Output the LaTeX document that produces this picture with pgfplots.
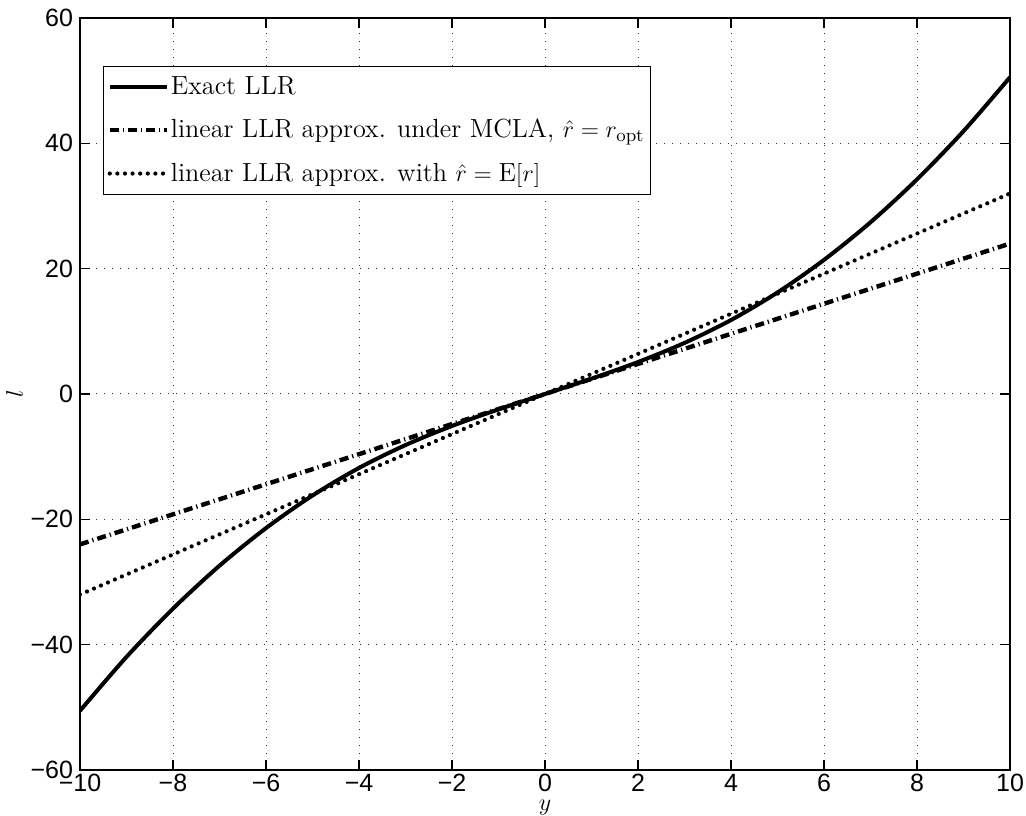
\documentclass[border=0pt]{standalone}
\usepackage{fontspec}
\usepackage{amsmath}
\usepackage{pgfplots}
\pgfplotsset{compat=1.18}
\newfontfamily\tickfont{Liberation Sans}
\pgfplotstableread{
x y
-10 -50.55
-9 -41.95
-8 -34.25
-7 -27.4
-6 -21.4
-5 -16.2
-4 -11.8
-3 -8.15
-2 -5.1
-1 -2.45
0 0
1 2.45
2 5.1
3 8.15
4 11.8
5 16.2
6 21.4
7 27.4
8 34.25
9 41.95
10 50.55
}\exact
\pgfplotstableread{
x y
-10 -24
10 24
}\mcla
\pgfplotstableread{
x y
-10 -32
10 32
}\mean
\begin{document}
\begin{tikzpicture}
\begin{axis}[
  name=ax,
  scale only axis,
  width=465pt, height=376pt,
  xmin=-10, xmax=10, ymin=-60, ymax=60,
  xtick={-10,-8,...,10},
  xticklabels={−10,−8,−6,−4,−2,0,2,4,6,8,10},
  ytick={-60,-40,...,60},
  yticklabels={−60,−40,−20,0,20,40,60},
  tick label style={font=\tickfont\fontsize{12.5}{14}\selectfont},
  xticklabel style={yshift=1.5pt},
  tick align=inside,
  major tick length=5pt,
  axis line style={line width=0.8pt},
  every tick/.style={line width=0.6pt,black},
  grid=major,
  major grid style={line width=0.5pt, dash pattern=on 0.6pt off 3.4pt, black!80},
  xlabel={$y$}, ylabel={$l$},
  label style={font=\fontsize{12.5}{14}\selectfont},
  xlabel style={yshift=2.5pt},
  ylabel style={yshift=-3pt},
  legend style={at={(0.0247,0.9365)}, anchor=north west, draw=black, line width=0.6pt,
    font=\fontsize{13.1}{14}\selectfont, row sep=9pt, inner xsep=2pt, inner ysep=4pt,
    nodes={inner ysep=1pt, inner xsep=1pt},
    cells={anchor=west}},
  legend cell align=left,
  legend image code/.code={\draw[#1] (0pt,0pt) -- (28.5pt,0pt);},
]
\addplot[black, line width=2pt, smooth] table[x=x,y=y] {\exact};
\addlegendentry{Exact LLR}
\addplot[black, line width=2.2pt, dash pattern=on 4.5pt off 2pt on 0.6pt off 2pt] table[x=x,y=y] {\mcla};
\addlegendentry{linear LLR approx. under MCLA, $\hat r = r_{\mathrm{opt}}$}
\addplot[black, line width=2.1pt, line cap=round, dash pattern=on 0pt off 3.8pt] table[x=x,y=y] {\mean};
\addlegendentry{linear LLR approx. with $\hat r = \mathrm{E}[r]$}
\end{axis}
\pgfresetboundingbox
\path (ax.south west) ++(-40pt,-22.5pt) coordinate (bl);
\path (ax.north east) ++(8pt,9pt) coordinate (tr);
\path[use as bounding box] (bl) rectangle (tr);
\end{tikzpicture}
\end{document}
